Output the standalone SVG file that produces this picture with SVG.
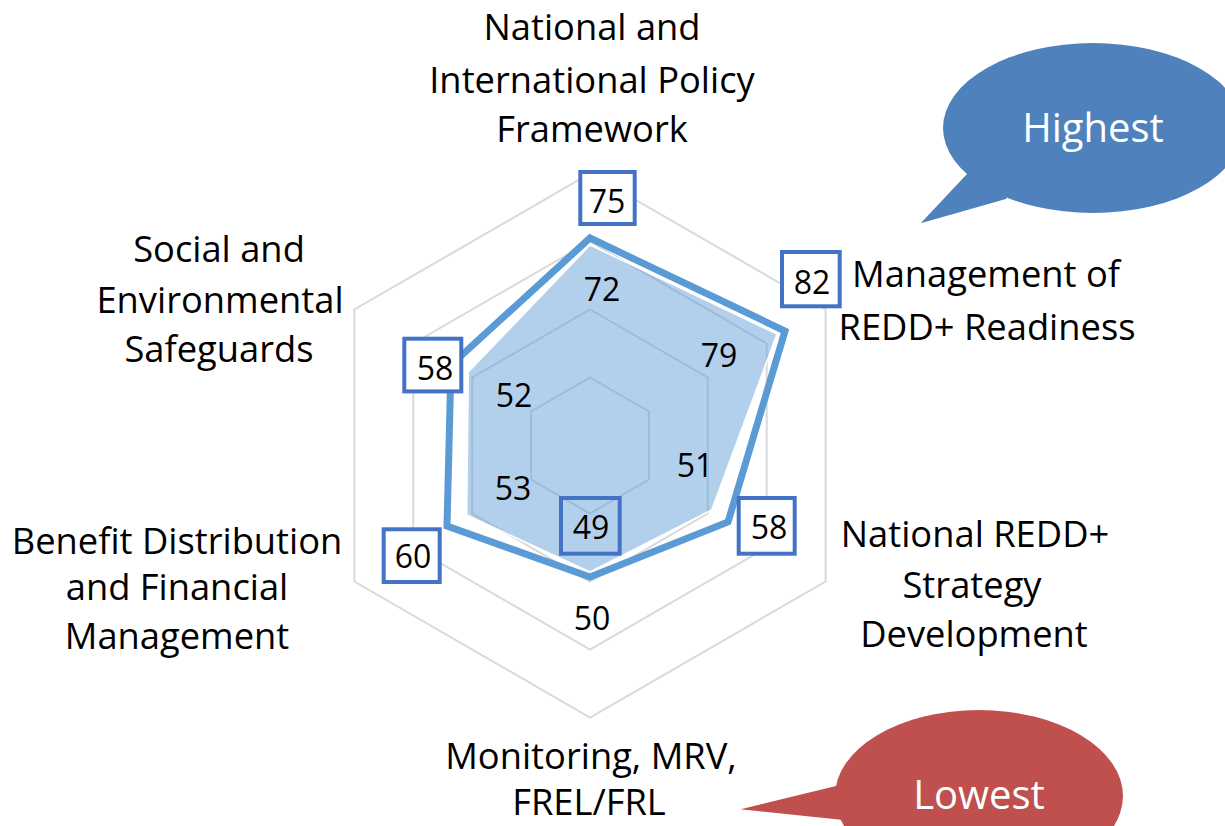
<svg xmlns="http://www.w3.org/2000/svg" width="1225" height="826" viewBox="0 0 1225 826">
<style>
.grid{fill:none;stroke:#d9d9d9;stroke-width:2}
.lbl{font-family:"Open Sans","Liberation Sans",sans-serif;font-size:36.3px;fill:#000;text-anchor:middle}
.val{font-family:"Open Sans","Liberation Sans",sans-serif;font-size:32px;fill:#000;text-anchor:middle}
.box{fill:#fff;stroke:#4472c4;stroke-width:4}
.bub{font-family:"Open Sans","Liberation Sans",sans-serif;font-size:40px;fill:#fff;text-anchor:middle}
</style>
<rect width="1225" height="826" fill="#fff"/>
<g id="grid">
<polygon class="grid" points="590,173.5 825.6,309.5 825.6,581.5 590,717.5 354.4,581.5 354.4,309.5"/>
<polygon class="grid" points="590,241.5 766.7,343.5 766.7,547.5 590,649.5 413.3,547.5 413.3,343.5"/>
<polygon class="grid" points="590,309.5 707.8,377.5 707.8,513.5 590,581.5 472.2,513.5 472.2,377.5"/>
<polygon class="grid" points="590,377.5 648.9,411.5 648.9,479.5 590,513.5 531.1,479.5 531.1,411.5"/>
</g>
<g id="connectors">
<polygon id="series-fill" points="590,245 777,334 711.7,510 590,572 466.7,515 468.3,372" fill="#5b9bd5" fill-opacity="0.47" stroke="#fff" stroke-width="1.5"/>
<polygon id="series-outline" points="590,238 785,331 728,522 590,577 447,526 451,365" fill="none" stroke="#5b9bd5" stroke-width="7" stroke-linejoin="miter"/>
</g>
<g id="fill-values">
<text class="val" x="602" y="301">72</text>
<text class="val" x="719" y="367">79</text>
<text class="val" x="695" y="477">51</text>
<text class="val" x="513" y="500">53</text>
<text class="val" x="514" y="407">52</text>
<text class="val" x="592" y="630">50</text>
</g>
<g id="box-75"><rect class="box" x="580.3" y="172" width="54.4" height="52"/><text class="val" x="607" y="213">75</text></g>
<g id="box-82"><rect class="box" x="782" y="252" width="57.7" height="54.3"/><text class="val" x="812" y="294">82</text></g>
<g id="box-58r"><rect class="box" x="738.7" y="498" width="56" height="55.7"/><text class="val" x="769" y="539">58</text></g>
<g id="box-49"><rect class="box" style="fill:none" x="561" y="498" width="58.7" height="55.7"/><text class="val" x="591" y="539">49</text></g>
<g id="box-60"><rect class="box" x="383.7" y="529.3" width="56" height="52.7"/><text class="val" x="413" y="568">60</text></g>
<g id="box-58l"><rect class="box" x="404.3" y="338.7" width="57" height="52.7"/><text class="val" x="435" y="380">58</text></g>
<g id="label-top"><text class="lbl" x="592" y="40">National and</text><text class="lbl" x="592" y="93">International Policy</text><text class="lbl" x="592" y="142">Framework</text></g>
<g id="label-ur"><text class="lbl" x="986" y="287">Management of</text><text class="lbl" x="987" y="340">REDD+ Readiness</text></g>
<g id="label-lr"><text class="lbl" x="975" y="547">National REDD+</text><text class="lbl" x="972" y="598">Strategy</text><text class="lbl" x="974" y="647">Development</text></g>
<g id="label-bottom"><text class="lbl" x="591" y="769">Monitoring, MRV,</text><text class="lbl" x="589" y="815">FREL/FRL</text></g>
<g id="label-ll"><text class="lbl" x="177" y="554">Benefit Distribution</text><text class="lbl" x="177" y="600">and Financial</text><text class="lbl" x="177" y="649">Management</text></g>
<g id="label-ul"><text class="lbl" x="219" y="262">Social and</text><text class="lbl" x="220" y="313">Environmental</text><text class="lbl" x="219" y="362">Safeguards</text></g>
<g id="bubble-highest">
<ellipse cx="1093" cy="128" rx="150" ry="85" fill="#4f81bd"/>
<polygon points="967,174 920.7,223.3 1006.7,198.7 1000,160" fill="#4f81bd"/>
<text class="bub" x="1093" y="142">Highest</text>
</g>
<g id="bubble-lowest">
<ellipse cx="979" cy="796" rx="144" ry="86" fill="#c0504d"/>
<polygon points="836,786 740.7,809.3 843.3,820 870,800" fill="#c0504d"/>
<text class="bub" x="979" y="809">Lowest</text>
</g>
</svg>
